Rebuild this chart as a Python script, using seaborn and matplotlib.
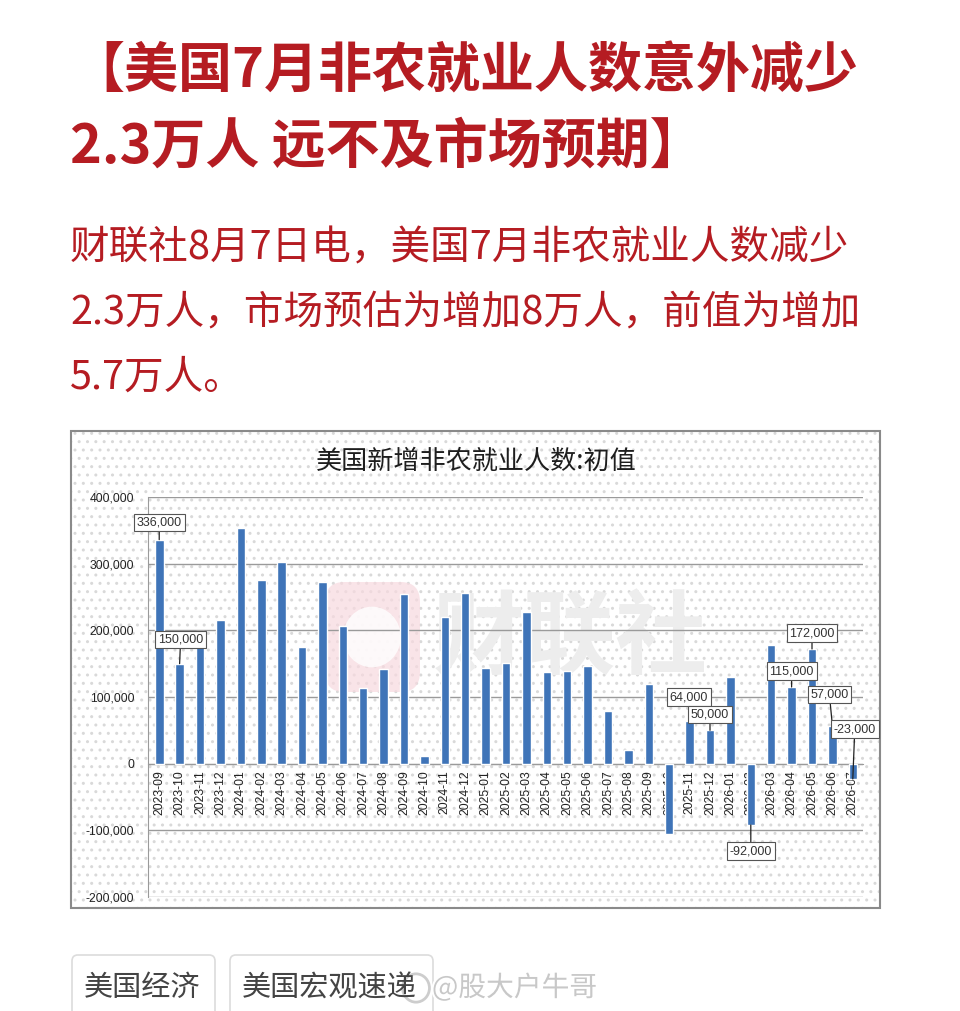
import numpy as np
import pandas as pd
import seaborn as sns
import matplotlib.pyplot as plt
from matplotlib.patches import Rectangle, FancyBboxPatch, Circle
import matplotlib.patheffects as pe
from matplotlib.ticker import FuncFormatter, FixedLocator

# ---- data ----
months = ["2023-09", "2023-10", "2023-11", "2023-12",
          "2024-01", "2024-02", "2024-03", "2024-04", "2024-05", "2024-06",
          "2024-07", "2024-08", "2024-09", "2024-10", "2024-11", "2024-12",
          "2025-01", "2025-02", "2025-03", "2025-04", "2025-05", "2025-06",
          "2025-07", "2025-08", "2025-09", "2025-10", "2025-11", "2025-12",
          "2026-01", "2026-02", "2026-03", "2026-04", "2026-05", "2026-06",
          "2026-07"]
payrolls = [336000, 150000, 199000, 216000,
            353000, 275000, 303000, 175000, 272000, 206000,
            114000, 142000, 254000, 12000, 220000, 256000,
            143000, 151000, 228000, 138000, 139000, 147000,
            79000, 21000, 119000, -105000, 64000, 50000,
            130000, -92000, 178000, 115000, 172000, 57000,
            -23000]
labelled = ["2023-09", "2023-10", "2025-11", "2025-12", "2026-02",
            "2026-04", "2026-05", "2026-06", "2026-07"]
yticks = [-200000, -100000, 0, 100000, 200000, 300000, 400000]

headline = ["【美国7月非农就业人数意外减少", "2.3万人 远不及市场预期】"]
body = ["财联社8月7日电，美国7月非农就业人数减少",
        "2.3万人，市场预估为增加8万人，前值为增加",
        "5.7万人。"]
chart_title = "美国新增非农就业人数:初值"
tags = ["美国经济", "美国宏观速递"]

df = pd.DataFrame({"month": months, "value": payrolls})

W, H = 960, 1011
CJK = ["Noto Sans CJK SC", "DejaVu Sans"]
NUM = ["Liberation Sans", "DejaVu Sans"]
BLUE = "#3f74b8"
RED = "#b51c22"

sns.set_style("white")
plt.rcParams["font.family"] = CJK

fig = plt.figure(figsize=(W / 100, H / 100), dpi=100)
fig.patch.set_facecolor("white")


def fx(x):
    return x / W


def fy(y):
    return 1 - y / H


# ---- headline and body text ----
for i, line in enumerate(headline):
    fig.text(fx(70), fy(72 + 75 * i), line, fontsize=38.9, color=RED,
             weight="bold", va="center", ha="left", family=CJK)
for i, line in enumerate(body):
    fig.text(fx(70), fy(248 + 65 * i), line, fontsize=28.5, color=RED,
             va="center", ha="left", family=CJK)

# ---- chart frame with dotted fill ----
x0, y0, x1, y1 = 71, 431, 880, 908
fig.patches.append(Rectangle((fx(x0), fy(y1)), fx(x1 - x0), (y1 - y0) / H,
                             transform=fig.transFigure, facecolor="white",
                             edgecolor="#d9d9d9", hatch="..", lw=0,
                             zorder=-3))
fig.patches.append(Rectangle((fx(x0), fy(y1)), fx(x1 - x0), (y1 - y0) / H,
                             transform=fig.transFigure, facecolor="none",
                             edgecolor="#8a8a8a", lw=1.5, zorder=-1))

# watermark behind the bars
fig.patches.append(FancyBboxPatch((fx(325), fy(692)), fx(95), 110 / H,
                                  boxstyle="round,pad=0,rounding_size=0.02",
                                  transform=fig.transFigure,
                                  facecolor="#f7d9df", edgecolor="none",
                                  alpha=0.7, zorder=-2))
fig.patches.append(Circle((fx(372), fy(637)), 0.03, transform=fig.transFigure,
                          facecolor="white", edgecolor="none", alpha=0.8,
                          zorder=-2))
fig.text(fx(570), fy(640), "财联社", fontsize=66, weight="bold",
         color="#ededed", ha="center", va="center", zorder=-2, family=CJK)

fig.text(fx(476), fy(461), chart_title, fontsize=18.8, color="#1e1e1e",
         ha="center", va="center", family=CJK)

# ---- bar chart ----
ax = fig.add_axes([fx(148), fy(897), (863 - 148) / W, (897 - 497) / H])
ax.set_facecolor("none")
sns.barplot(data=df, x="month", y="value", color=BLUE, saturation=1,
            width=0.42, ax=ax, zorder=3)

ax.set_ylim(-200000, 400000)
ax.set_xlim(-0.55, len(months) - 0.5)
ax.set_yticks(yticks)
ax.yaxis.set_major_formatter(FuncFormatter(lambda v, p: f"{v:,.0f}"))
ax.yaxis.grid(True, color="#9a9a9a", lw=1)
ax.set_axisbelow(True)
ax.set_xlabel("")
ax.set_ylabel("")

for s in ["top", "right"]:
    ax.spines[s].set_visible(False)
ax.spines["left"].set_color("#9a9a9a")
ax.spines["bottom"].set_color("#9a9a9a")
ax.spines["bottom"].set_position(("data", 0))

ax.set_xticks(range(len(months)))
ax.set_xticklabels(months, rotation=90, family=NUM, fontsize=8.7,
                   color="#222222")
ax.xaxis.set_minor_locator(FixedLocator(np.arange(-0.5, len(months), 1)))
ax.tick_params(axis="x", which="major", length=0, pad=5)
ax.tick_params(axis="x", which="minor", length=4, color="#9a9a9a",
               direction="out")
ax.tick_params(axis="y", length=4, color="#9a9a9a", pad=6)
for t in ax.get_yticklabels():
    t.set_family(NUM)
    t.set_fontsize(8.7)
    t.set_color("#222222")

# callouts: offsets in pixels from the bar end
offsets = {"2023-09": (0, 17), "2023-10": (1, 24), "2025-11": (-1, 24),
           "2025-12": (0, 16), "2026-02": (0, -26), "2026-04": (0, 16),
           "2026-05": (0, 16), "2026-06": (-3, 31), "2026-07": (2, 50)}
for m in labelled:
    i = months.index(m)
    v = payrolls[i]
    ax.annotate(f"{v:,.0f}", xy=(i, v), xytext=offsets[m],
                textcoords="offset pixels", ha="center", va="center",
                fontsize=9, family=NUM, color="#333333", zorder=6,
                bbox=dict(boxstyle="square,pad=0.22", fc="white",
                          ec="#555555", lw=0.8),
                arrowprops=dict(arrowstyle="-", color="#222222", lw=0.9,
                                shrinkA=0, shrinkB=0))

# ---- tags at the bottom ----
for (a, b), tag in zip([(72, 215), (230, 433)], tags):
    fig.patches.append(FancyBboxPatch((fx(a), fy(1030)), fx(b - a), 75 / H,
                                      boxstyle="round,pad=0,rounding_size=0.006",
                                      transform=fig.transFigure,
                                      facecolor="white", edgecolor="#dcdcdc",
                                      lw=1.2))
    fig.text(fx(a + 12), fy(988), tag, fontsize=21, color="#444444",
             ha="left", va="center", family=CJK)

wm = fig.text(fx(432), fy(988), "@股大户牛哥", fontsize=20, color="#c8c8c8",
              ha="left", va="center", family=CJK)
wm.set_path_effects([pe.withStroke(linewidth=3, foreground="white")])
fig.patches.append(Circle((fx(416), fy(988)), 0.014, transform=fig.transFigure,
                          facecolor="white", edgecolor="#c8c8c8", lw=2,
                          alpha=0.9))

fig.savefig("out.png", dpi=100)
